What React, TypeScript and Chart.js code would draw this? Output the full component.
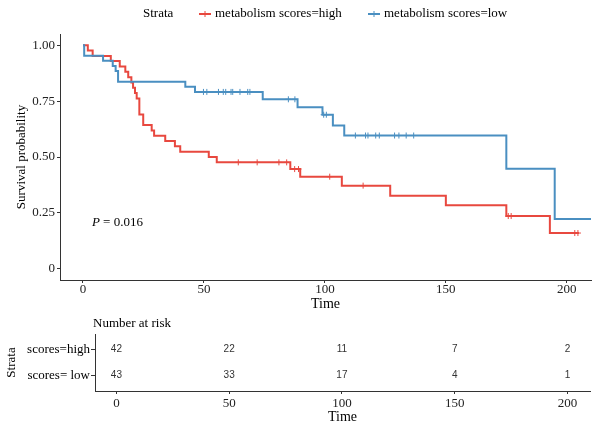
import React, { useEffect, useRef } from 'react';
import { Chart, registerables } from 'chart.js';

Chart.register(...registerables);

const FONT = "'Liberation Serif', 'Times New Roman', serif";
const SANS = "'Liberation Sans', Arial, sans-serif";
const RED = '#E8483F';
const BLUE = '#4A8FC1';

// ---- Data ----
const xTicks = [0, 50, 100, 150, 200];
const yTicks = [0, 0.25, 0.5, 0.75, 1];
const yTickLabels = ['0', '0.25', '0.50', '0.75', '1.00'];
const legendLabels = ['metabolism scores=high', 'metabolism scores=low'];
const strataLabels = ['scores=high', 'scores= low'];

const highTimes = [0, 2.0, 4.0, 11.5, 15.2, 17.5, 18.7, 20.0, 20.7, 21.5, 22.2, 23.3, 24.9, 28.4, 29.4, 34.0, 38.0, 40.2, 52.0, 55.3, 85.7, 89.8, 107.0, 127.0, 150.0, 175.0, 193.0];
const highSurv = [1, 0.976, 0.952, 0.929, 0.905, 0.881, 0.857, 0.833, 0.81, 0.786, 0.762, 0.69, 0.643, 0.619, 0.595, 0.571, 0.548, 0.524, 0.5, 0.476, 0.446, 0.412, 0.372, 0.327, 0.284, 0.236, 0.16];
const highEnd = 205;
const highCensor = [64.2, 72.0, 81.0, 84.2, 87.5, 89.1, 102.0, 115.8, 175.8, 177.0, 203.3, 204.6];

const lowTimes = [0, 0.5, 8.3, 12.3, 13.5, 14.5, 42.3, 46.3, 74.3, 88.7, 99.0, 103.3, 108.0, 175.0, 195.0];
const lowSurv = [1, 0.953, 0.93, 0.907, 0.884, 0.837, 0.814, 0.791, 0.758, 0.723, 0.689, 0.641, 0.596, 0.447, 0.223];
const lowEnd = 210;
const lowCensor = [49.8, 51.2, 56.0, 58.0, 59.0, 61.2, 61.9, 64.9, 68.1, 69.0, 84.9, 87.6, 99.5, 100.6, 112.6, 116.8, 117.8, 121.0, 122.5, 128.8, 130.6, 133.6, 136.7];

const riskTimes = [0, 50, 100, 150, 200];
const riskHigh = [42, 22, 11, 7, 2];
const riskLow = [43, 33, 17, 4, 1];

const pLabel = { italic: 'P', rest: ' = 0.016', x: 3.7, y: 0.205 };

const X_MIN = -9.5;
const X_MAX = 210;

// ---- helpers ----
function stepValue(times: number[], surv: number[], t: number) {
  let v = surv[0];
  for (let i = 0; i < times.length; i++) if (times[i] <= t) v = surv[i];
  return v;
}
function curvePoints(times: number[], surv: number[], end: number) {
  const pts = times.map((t, i) => ({ x: t, y: surv[i] }));
  pts.push({ x: end, y: surv[surv.length - 1] });
  return pts;
}
function censorPoints(times: number[], surv: number[], cens: number[]) {
  return cens.map((t) => ({ x: t, y: stepValue(times, surv, t) }));
}

const legendPlugin = {
  id: 'kmLegend',
  afterDraw(chart: any) {
    const ctx = chart.ctx;
    ctx.save();
    ctx.font = `13px ${FONT}`;
    ctx.fillStyle = '#000';
    ctx.textBaseline = 'middle';
    ctx.textAlign = 'left';
    const y = 14;
    ctx.fillText('Strata', 143, y);
    const items = [
      { color: RED, label: legendLabels[0], x: 199 },
      { color: BLUE, label: legendLabels[1], x: 368 },
    ];
    for (const it of items) {
      ctx.strokeStyle = it.color;
      ctx.lineWidth = 2;
      ctx.beginPath();
      ctx.moveTo(it.x, y);
      ctx.lineTo(it.x + 12, y);
      ctx.stroke();
      ctx.lineWidth = 1;
      ctx.beginPath();
      ctx.moveTo(it.x + 6, y - 3);
      ctx.lineTo(it.x + 6, y + 3);
      ctx.stroke();
      ctx.fillText(it.label, it.x + 16, y);
    }
    // P value
    const sx = chart.scales.x;
    const sy = chart.scales.y;
    const px = sx.getPixelForValue(pLabel.x);
    const py = sy.getPixelForValue(pLabel.y);
    ctx.font = `italic 13px ${FONT}`;
    ctx.fillText(pLabel.italic, px, py);
    const w = ctx.measureText(pLabel.italic).width;
    ctx.font = `13px ${FONT}`;
    ctx.fillText(pLabel.rest, px + w, py);
    ctx.restore();
  },
};

const riskPlugin = {
  id: 'riskText',
  afterDatasetsDraw(chart: any) {
    const ctx = chart.ctx;
    ctx.save();
    ctx.font = `10px ${SANS}`;
    ctx.fillStyle = '#333';
    ctx.textAlign = 'center';
    ctx.textBaseline = 'middle';
    const rows = [riskHigh, riskLow];
    rows.forEach((vals, d) => {
      const meta = chart.getDatasetMeta(d);
      meta.data.forEach((el: any, i: number) => {
        ctx.fillText(String(vals[i]), el.x, el.y);
      });
    });
    ctx.font = `13px ${FONT}`;
    ctx.fillStyle = '#000';
    ctx.textAlign = 'left';
    ctx.fillText('Number at risk', 93, 14);
    ctx.restore();
  },
};

function axisCommon() {
  return {
    border: { display: true, color: '#333', width: 1 },
    grid: { display: true, drawOnChartArea: false, drawTicks: true, tickLength: 3, color: '#333' },
  };
}

export default function App() {
  const mainRef = useRef<HTMLCanvasElement>(null);
  const riskRef = useRef<HTMLCanvasElement>(null);

  useEffect(() => {
    Chart.defaults.font.family = FONT;
    const main = new Chart(mainRef.current as HTMLCanvasElement, {
      type: 'line',
      data: {
        datasets: [
          {
            label: legendLabels[1],
            data: curvePoints(lowTimes, lowSurv, lowEnd),
            borderColor: BLUE,
            borderWidth: 2,
            pointRadius: 0,
            stepped: 'before',
            fill: false,
          } as any,
          {
            label: legendLabels[0],
            data: curvePoints(highTimes, highSurv, highEnd),
            borderColor: RED,
            borderWidth: 2,
            pointRadius: 0,
            stepped: 'before',
            fill: false,
          } as any,
          {
            type: 'scatter',
            data: censorPoints(highTimes, highSurv, highCensor),
            borderColor: RED,
            backgroundColor: RED,
            pointStyle: 'cross',
            pointRadius: 3,
            borderWidth: 1,
            showLine: false,
          } as any,
          {
            type: 'scatter',
            data: censorPoints(lowTimes, lowSurv, lowCensor),
            borderColor: BLUE,
            backgroundColor: BLUE,
            pointStyle: 'cross',
            pointRadius: 3,
            borderWidth: 1,
            showLine: false,
          } as any,
        ],
      },
      options: {
        responsive: false,
        animation: false,
        events: [],
        layout: { padding: { top: 34, right: 9, left: 0, bottom: 7 } },
        plugins: { legend: { display: false }, tooltip: { enabled: false }, title: { display: false } },
        scales: {
          x: {
            type: 'linear',
            min: X_MIN,
            max: X_MAX,
            ...axisCommon(),
            afterBuildTicks: (s: any) => {
              s.ticks = xTicks.map((v) => ({ value: v }));
            },
            afterFit: (s: any) => {
              s.height = 33;
            },
            ticks: { color: '#222', font: { size: 13, family: FONT }, padding: -1, callback: (v: any) => String(v), maxRotation: 0, autoSkip: false },
            title: { display: true, text: 'Time', color: '#000', font: { size: 14, family: FONT }, padding: 0 },
          },
          y: {
            type: 'linear',
            min: -0.05,
            max: 1.05,
            ...axisCommon(),
            afterBuildTicks: (s: any) => {
              s.ticks = yTicks.map((v) => ({ value: v }));
            },
            afterFit: (s: any) => {
              s.width = 60;
            },
            ticks: {
              color: '#222',
              font: { size: 13, family: FONT },
              padding: 2,
              autoSkip: false,
              callback: (v: any) => {
                const i = yTicks.indexOf(Number(v));
                return i >= 0 ? yTickLabels[i] : '';
              },
            },
            title: { display: true, text: 'Survival probability', color: '#000', font: { size: 13, family: FONT }, padding: { top: 14, bottom: 0 } },
          },
        },
      } as any,
      plugins: [legendPlugin],
    });

    const risk = new Chart(riskRef.current as HTMLCanvasElement, {
      type: 'scatter',
      data: {
        datasets: [
          { data: riskTimes.map((t) => ({ x: t, y: 2 })), pointRadius: 0 },
          { data: riskTimes.map((t) => ({ x: t, y: 1 })), pointRadius: 0 },
        ],
      },
      options: {
        responsive: false,
        animation: false,
        events: [],
        layout: { padding: { top: 24, right: 10, left: 0, bottom: 0 } },
        plugins: { legend: { display: false }, tooltip: { enabled: false } },
        scales: {
          x: {
            type: 'linear',
            min: X_MIN,
            max: X_MAX,
            ...axisCommon(),
            afterBuildTicks: (s: any) => {
              s.ticks = xTicks.map((v) => ({ value: v }));
            },
            afterFit: (s: any) => {
              s.height = 37;
            },
            ticks: { color: '#222', font: { size: 13, family: FONT }, padding: 2, callback: (v: any) => String(v), maxRotation: 0, autoSkip: false },
            title: { display: true, text: 'Time', color: '#000', font: { size: 14, family: FONT }, padding: { top: 0, bottom: 2 } },
          },
          y: {
            type: 'linear',
            min: 0.4,
            max: 2.6,
            ...axisCommon(),
            grid: { display: true, drawOnChartArea: false, drawTicks: true, tickLength: 4, color: '#333' },
            afterBuildTicks: (s: any) => {
              s.ticks = [{ value: 1 }, { value: 2 }];
            },
            afterFit: (s: any) => {
              s.width = 95;
            },
            ticks: {
              color: '#000',
              font: { size: 13, family: FONT },
              padding: 1,
              autoSkip: false,
              callback: (v: any) => (Number(v) === 2 ? strataLabels[0] : strataLabels[1]),
            },
            title: { display: true, text: 'Strata', color: '#000', font: { size: 13, family: FONT }, padding: { top: 4, bottom: 0 } },
          },
        },
      } as any,
      plugins: [riskPlugin],
    });

    return () => {
      main.destroy();
      risk.destroy();
    };
  }, []);

  return (
    <div style={{ position: 'absolute', left: 0, top: 0, width: 600, height: 428, background: '#fff' }}>
      <canvas ref={mainRef} width={600} height={320} style={{ position: 'absolute', left: 0, top: 0 }} />
      <canvas ref={riskRef} width={600} height={118} style={{ position: 'absolute', left: 0, top: 310 }} />
    </div>
  );
}
